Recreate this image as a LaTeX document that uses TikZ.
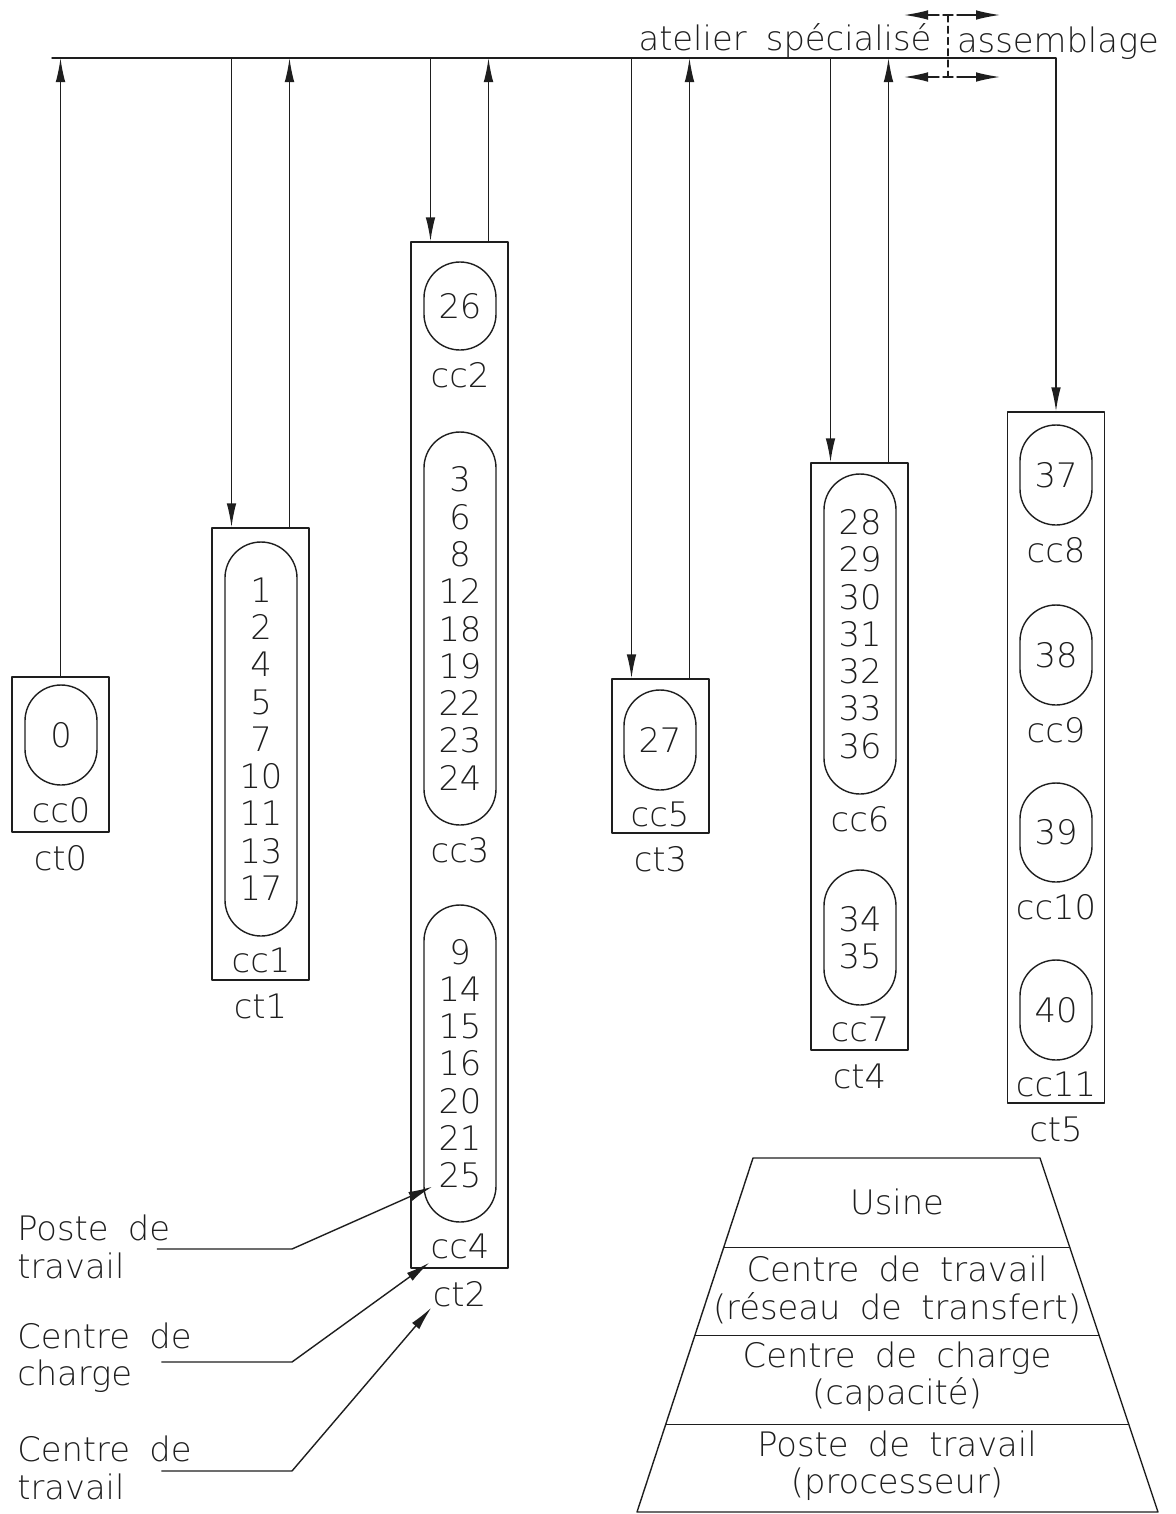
\documentclass[tikz,border=0pt]{standalone}
\usepackage{fontspec}
\setmainfont{DejaVuSans-ExtraLight.ttf}[WordSpace=1.8]
\usepackage{tikz}
\usetikzlibrary{arrows.meta,calc,positioning}
\definecolor{plInk}{HTML}{1E1E1E}
\tikzset{
  pl diagram/.style={font=\fontsize{24}{26.5}\selectfont, text=plInk,
    line cap=round, line join=round, x=0.025cm, y=-0.025cm},
  pl ct/.style={draw=plInk, line width=1pt, minimum width=2.425cm,
    minimum height=#1*0.025cm, inner sep=0pt},
  pl cc/.style={draw=plInk, line width=1pt, rounded corners=0.9cm,
    minimum width=1.8cm, minimum height=#1*0.025cm, align=center, inner sep=0pt},
  pl flow/.style={draw=plInk, line width=1pt,
    arrows={-Latex[length=0.6cm,width=0.24cm,fill=plInk]}},
  pl line/.style={draw=plInk, line width=1pt},
  pl split/.style={draw=plInk, line width=0.8pt, dash pattern=on 5pt off 3pt},
  pl tag/.style={inner sep=0pt, text=plInk}
}

\begin{document}
\begin{tikzpicture}[pl diagram]
\useasboundingbox (0,0) rectangle (1176,1514);
% centres de travail
\foreach \i/\x/\y/\h in {0/60.5/754.5/155,1/260.5/754/452,2/459.5/755/1026,
    3/660.5/756/154,4/859.5/756.5/587,5/1056/757.5/691}{
  \node[pl ct=\h] (ct\i) at (\x,\y) {};
  \node[pl tag, below=9pt of ct\i] {ct\i};
}
% centres de charge
\foreach \i/\x/\y/\h/\list in {0/61/735/100/{0},
    1/261/739/394/{1\\2\\4\\5\\7\\10\\11\\13\\17},
    2/460/306/88/{26},
    3/460/628.5/393/{3\\6\\8\\12\\18\\19\\22\\23\\24},
    4/460/1063.5/317/{9\\14\\15\\16\\20\\21\\25},
    5/660/740/100/{27},
    6/860/634/320/{28\\29\\30\\31\\32\\33\\36},
    7/860/937.5/135/{34\\35},
    8/1056/475/100/{37},
    9/1056/655/100/{38},
    10/1056/832.5/99/{39},
    11/1056/1010/100/{40}}{
  \node[pl cc=\h] (cc\i) at (\x,\y) {\list};
  \node[pl tag, below=8pt of cc\i] {cc\i};
}
% reseau de transfert
\coordinate (bus) at (52,58);
\draw[pl flow] (bus) -- (bus -| ct5.north) -- (ct5.north);
\draw[pl flow] (ct0.north) -- (ct0.north |- bus);
\foreach \i in {1,...,4}{
  \coordinate (ct\i in) at ($(ct\i.north)+(-29,0)$);
  \coordinate (ct\i out) at ($(ct\i.north)+(29,0)$);
  \draw[pl flow] (ct\i in |- bus) -- (ct\i in);
  \draw[pl flow] (ct\i out) -- (ct\i out |- bus);
}
% separation atelier / assemblage
\coordinate (sepT) at (948,15);
\coordinate (sepB) at (948,77);
\draw[pl split] (sepT) -- (sepB);
\foreach \c in {sepT,sepB}{
  \draw[pl line] ($(\c)+(-5,0)$) -- ($(\c)+(5,0)$);
  \draw[pl flow] ($(\c)+(-9,0)$) -- ($(\c)+(-44,0)$);
  \draw[pl flow] ($(\c)+(9,0)$) -- ($(\c)+(52,0)$);
}
\node[pl tag] (atelier) at (785,41) {atelier spécialisé};
\node[pl tag] (assemblage) at (1058,43) {assemblage};
% legende
\node[pl tag, align=left, anchor=west] (lblPoste) at (17,1247) {Poste de\\travail};
\node[pl tag, align=left, anchor=west] (lblCharge) at (17,1358) {Centre de\\charge};
\node[pl tag, align=left, anchor=west] (lblTravail) at (17,1468) {Centre de\\travail};
\coordinate (kPoste) at (292,1249);
\coordinate (kCharge) at (292,1362);
\coordinate (kTravail) at (292,1471);
\coordinate (tPoste) at ($(cc4.south west)+(9,-36)$);
\coordinate (tCharge) at ($(ct2.south west)+(19,-6)$);
\coordinate (tTravail) at ($(ct2.south west)+(21,39)$);
\draw[pl flow] (lblPoste.east |- kPoste) ++(-13,0) -- (kPoste) -- (tPoste);
\draw[pl flow] (lblCharge.east |- kCharge) ++(-30,0) -- (kCharge) -- (tCharge);
\draw[pl flow] (lblTravail.east |- kTravail) ++(-30,0) -- (kTravail) -- (tTravail);
% pyramide
\coordinate (pyTL) at (753,1158);
\coordinate (pyTR) at (1040,1158);
\coordinate (pyBR) at (1158,1512);
\coordinate (pyBL) at (637,1512);
\draw[pl line] (pyTL) -- (pyTR) -- (pyBR) -- (pyBL) -- cycle;
\foreach \f in {0.252,0.502,0.752}
  \draw[pl line] ($(pyTL)!\f!(pyBL)$) -- ($(pyTR)!\f!(pyBR)$);
\node[pl tag] (lvUsine) at (897,1202) {Usine};
\node[pl tag, align=center] (lvTravail) at (897,1290) {Centre de travail\\(réseau de transfert)};
\node[pl tag, align=center] (lvCharge) at (897,1377) {Centre de charge\\(capacité)};
\node[pl tag, align=center] (lvPoste) at (897,1466) {Poste de travail\\(processeur)};
\end{tikzpicture}
\end{document}
